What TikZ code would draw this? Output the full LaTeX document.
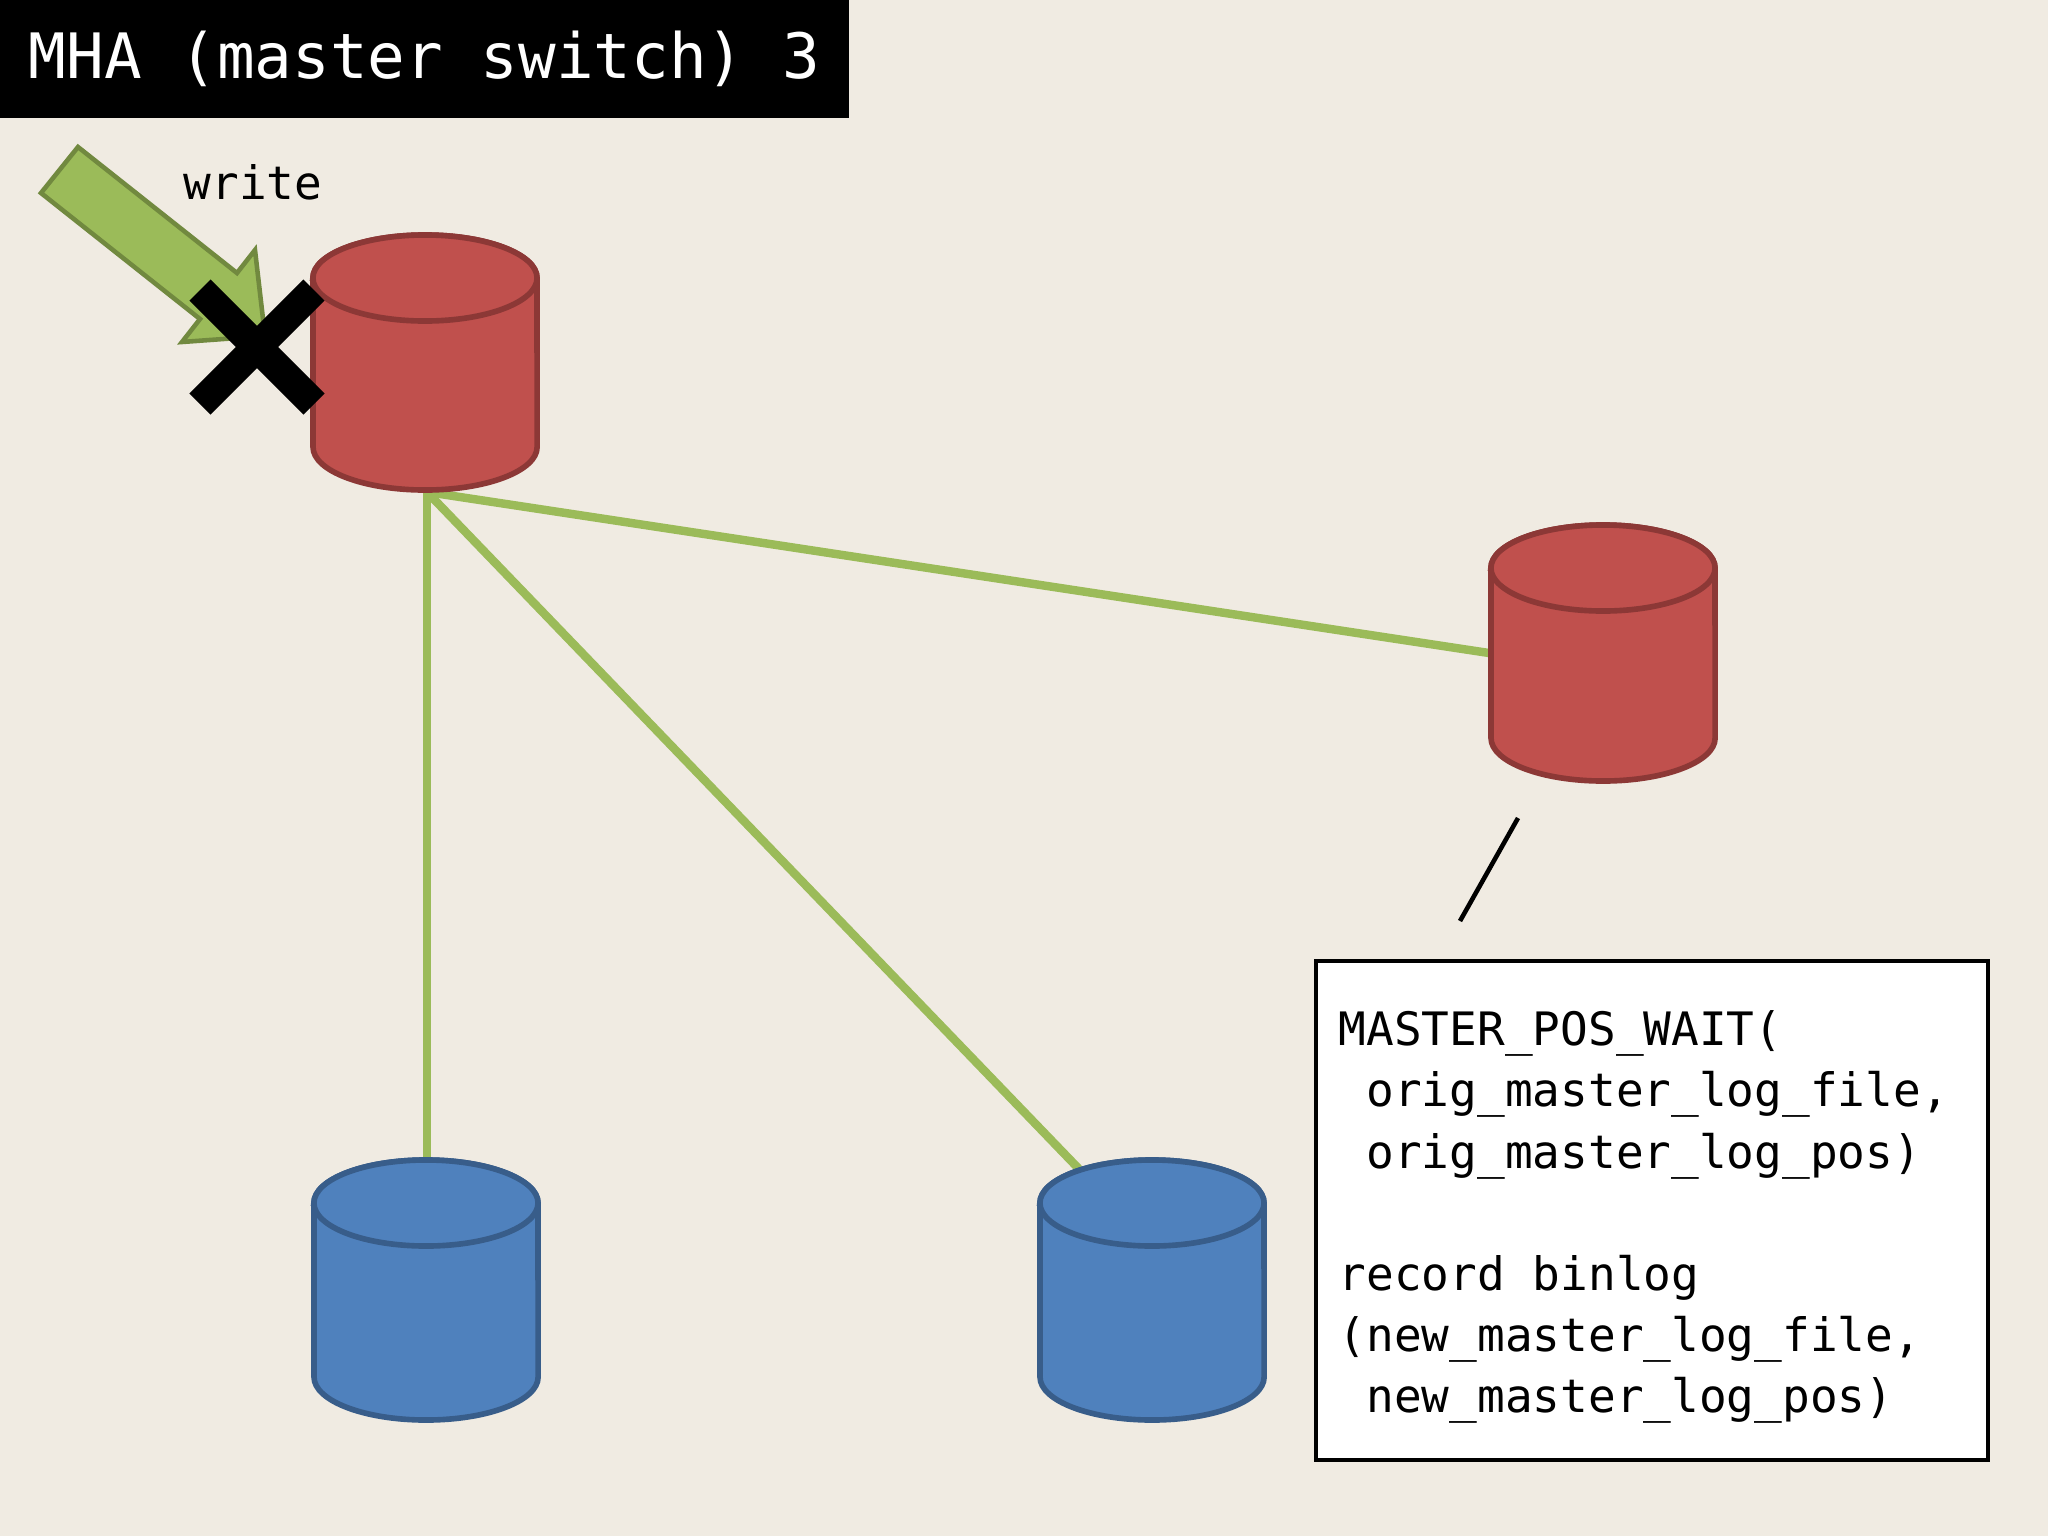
\documentclass[tikz,border=0pt]{standalone}
\usepackage{fontspec}
\newfontfamily\mono{DejaVu Sans Mono}
\begin{document}
\begin{tikzpicture}[x=0.01cm,y=-0.01cm,
  conn/.style={draw=lgreen,line width=2.4pt},
  boxtxt/.style={font=\mono\fontsize{13.1pt}{17.4pt}\selectfont,align=left,anchor=north west,inner sep=0pt}]
\definecolor{bg}{HTML}{F0EBE2}
\definecolor{lgreen}{HTML}{9BBB59}
\definecolor{dgreen}{HTML}{71893F}
\definecolor{rfill}{HTML}{C0504D}
\definecolor{rdraw}{HTML}{8C3836}
\definecolor{bfill}{HTML}{4F81BD}
\definecolor{bdraw}{HTML}{385D8A}
\newcommand\mycyl[5]{%
  \filldraw[fill=#4,draw=#5,line width=1.6pt] (#1-112,#2) -- (#1-112,#3) arc[start angle=180,end angle=360,x radius=1.12cm,y radius=0.43cm] -- (#1+112,#2) arc[start angle=0,end angle=180,x radius=1.12cm,y radius=0.43cm] -- cycle;
  \filldraw[fill=#4,draw=#5,line width=1.6pt] (#1,#2) ellipse[x radius=1.12cm,y radius=0.43cm];}
\fill[bg] (0,0) rectangle (2048,1536);
\useasboundingbox (0,0) rectangle (2048,1536);
\fill[black] (0,0) rectangle (849,118);
\node[font=\mono\fontsize{17.8pt}{20pt}\selectfont,text=white,anchor=west,inner sep=0pt] (title) at (28,59) {MHA (master switch) 3};
% arrow
\filldraw[fill=lgreen,draw=dgreen,line width=1.3pt] (78,147) -- (237,273) -- (255,250) -- (265,336) -- (182,342) -- (200,319) -- (41,193) -- cycle;
\node[font=\mono\fontsize{13.1pt}{15pt}\selectfont,anchor=base west,inner sep=0pt] (write) at (183,199) {write};
% connectors
\coordinate (m) at (427,492);
\coordinate (s1) at (1489,653);
\coordinate (b1) at (427,1162);
\coordinate (b2) at (1079,1169);
\draw[conn] (m) -- (s1);
\draw[conn] (m) -- (b1);
\draw[conn] (m) -- (b2);
% cylinders
\mycyl{425}{278}{447}{rfill}{rdraw}
\mycyl{1603}{568}{738}{rfill}{rdraw}
\mycyl{426}{1203}{1377}{bfill}{bdraw}
\mycyl{1152}{1203}{1377}{bfill}{bdraw}
% X mark
\draw[black,line width=8.5pt] (200,290) -- (314,404) (314,290) -- (200,404);
% callout
\coordinate (c1) at (1518,818);
\coordinate (c2) at (1460,921);
\draw[line width=1.3pt] (c1) -- (c2);
\draw[fill=white,line width=1.4pt] (1316,961) rectangle (1988,1460);
\node[boxtxt] (txt) at (1338,1010) {MASTER\_POS\_WAIT(\\
\ orig\_master\_log\_file,\\
\ orig\_master\_log\_pos)\\[17.4pt]
record binlog\\
(new\_master\_log\_file,\\
\ new\_master\_log\_pos)};
\end{tikzpicture}
\end{document}
